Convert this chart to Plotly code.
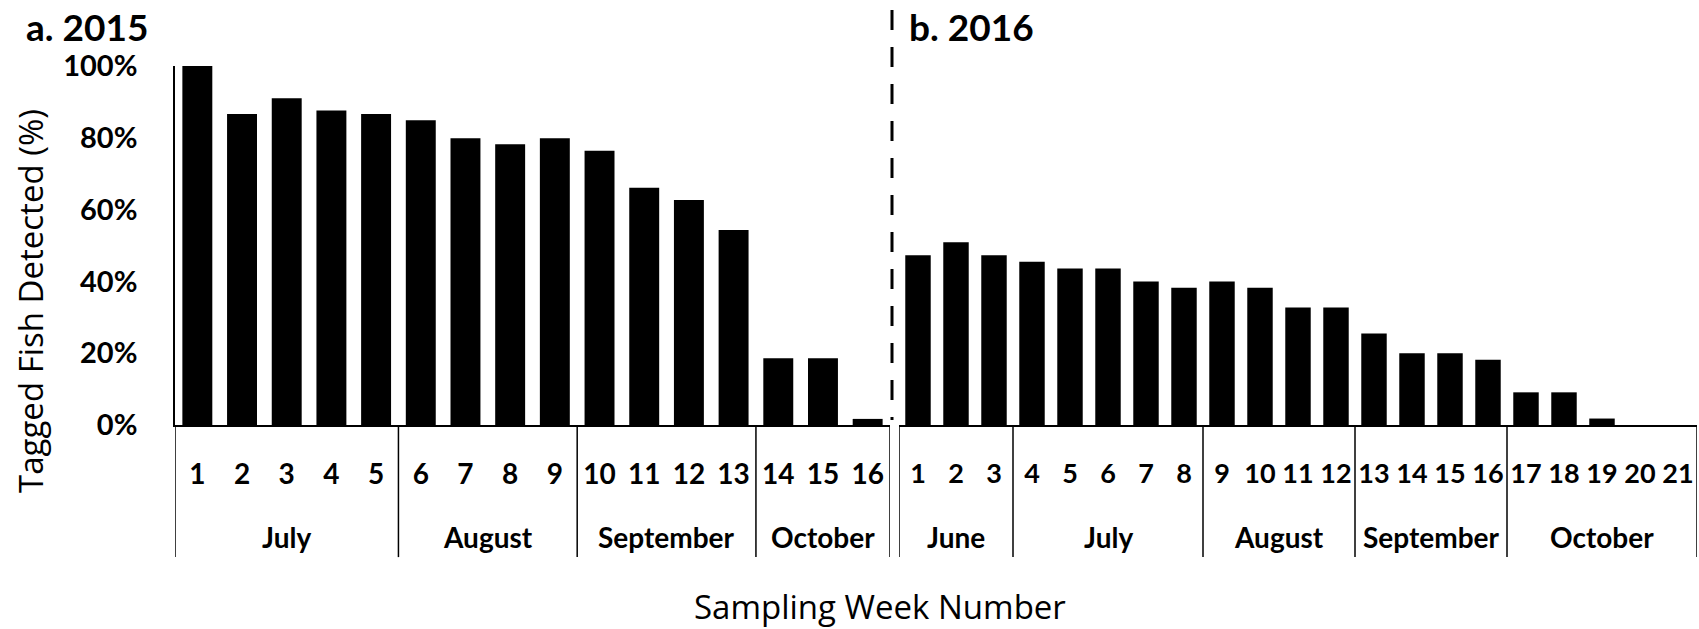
import plotly.graph_objects as go

# ---------------- data ----------------
weeks_2015 = ["1", "2", "3", "4", "5", "6", "7", "8", "9", "10", "11", "12", "13", "14", "15", "16"]
detected_2015 = [100, 86.6, 91.0, 87.6, 86.6, 84.9, 79.9, 78.2, 79.9, 76.4, 66.1, 62.7, 54.3, 18.6, 18.6, 1.7]
months_2015 = ["July", "August", "September", "October"]
weeks_per_month_2015 = [5, 4, 4, 3]

weeks_2016 = ["1", "2", "3", "4", "5", "6", "7", "8", "9", "10", "11", "12", "13", "14", "15", "16",
              "17", "18", "19", "20", "21"]
detected_2016 = [47.3, 50.9, 47.3, 45.5, 43.6, 43.6, 40.0, 38.2, 40.0, 38.2, 32.7, 32.7, 25.5, 20.0,
                 20.0, 18.2, 9.1, 9.1, 1.8, 0, 0]
months_2016 = ["June", "July", "August", "September", "October"]
weeks_per_month_2016 = [3, 5, 4, 4, 5]

y_ticks = [0, 20, 40, 60, 80, 100]
y_tick_labels = ["0%", "20%", "40%", "60%", "80%", "100%"]

# ---------------- figure ----------------
W, H = 1699, 629
FONT = "Lato"
TICKFONT = dict(family=FONT, size=28, color="black", weight="bold")
TITLEFONT = dict(family="Open Sans", size=33, color="black")

fig = go.Figure()
fig.add_trace(go.Bar(x=weeks_2015, y=detected_2015, marker=dict(color="black", line=dict(width=0)),
                     xaxis="x", yaxis="y", showlegend=False))
fig.add_trace(go.Bar(x=weeks_2016, y=detected_2016, marker=dict(color="black", line=dict(width=0)),
                     xaxis="x2", yaxis="y2", showlegend=False))

ydom = [(H - 425) / H, (H - 66) / H]

def xaxis_cfg(dom, anchor, weeks, fsize):
    return dict(domain=dom, anchor=anchor, type="category", range=[-0.5, len(weeks) - 0.5],
                automargin=False,
                showline=True, linecolor="black", linewidth=1.5, showgrid=False, zeroline=False,
                ticks="outside", ticklen=24, tickcolor="rgba(0,0,0,0)", tickangle=0,
                tickmode="array", tickvals=weeks, ticktext=weeks,
                tickfont=dict(family=FONT, size=fsize, color="black", weight="bold"), fixedrange=True)

fig.update_layout(
    width=W, height=H,
    margin=dict(l=0, r=0, t=0, b=0, autoexpand=False),
    paper_bgcolor="white", plot_bgcolor="white",
    bargap=0.33,
    xaxis=xaxis_cfg([175 / W, 890 / W], "y", weeks_2015, 28),
    xaxis2=xaxis_cfg([899 / W, 1697 / W], "y2", weeks_2016, 27),
    yaxis=dict(domain=ydom, anchor="x", range=[0, 100], tickmode="array", tickvals=y_ticks,
               ticktext=y_tick_labels, automargin=False,
               showline=True, linecolor="black", linewidth=1.5, showgrid=False,
               zeroline=False, ticks="outside", ticklen=30, tickcolor="rgba(0,0,0,0)",
               tickfont=dict(family=FONT, size=29, color="black", weight="bold")),
    yaxis2=dict(domain=ydom, anchor="x2", range=[0, 100], showline=False, showgrid=False,
                automargin=False, zeroline=False, showticklabels=False, ticks=""),
)

shapes = []
annotations = []

def add_groups(xref, yref, months, counts):
    start = 0
    bounds = [-0.5]
    for m, c in zip(months, counts):
        annotations.append(dict(x=start + (c - 1) / 2, y=-0.312, xref=xref, yref=yref, text=m,
                                showarrow=False, xanchor="center", yanchor="middle", font=TICKFONT))
        start += c
        bounds.append(start - 0.5)
    for b in bounds:
        shapes.append(dict(type="line", xref=xref, yref=yref, x0=b, x1=b, y0=0, y1=-0.368,
                           line=dict(color="black", width=1.5)))

add_groups("x", "y domain", months_2015, weeks_per_month_2015)
add_groups("x2", "y2 domain", months_2016, weeks_per_month_2016)

# dashed divider between panels
shapes.append(dict(type="line", xref="paper", yref="paper", x0=892 / W, x1=892 / W,
                   y0=(H - 10) / H, y1=(H - 420) / H,
                   line=dict(color="black", width=3, dash="20px,17px")))

# panel titles
annotations.append(dict(x=24 / W, y=(H - 27) / H, xref="paper", yref="paper", text="a. 2015",
                        showarrow=False, xanchor="left", yanchor="middle",
                        font=dict(family=FONT, size=37, color="black", weight="bold")))
annotations.append(dict(x=907 / W, y=(H - 27) / H, xref="paper", yref="paper", text="b. 2016",
                        showarrow=False, xanchor="left", yanchor="middle",
                        font=dict(family=FONT, size=37, color="black", weight="bold")))

# axis titles
annotations.append(dict(x=30 / W, y=(H - 301) / H, xref="paper", yref="paper",
                        text="Tagged Fish Detected (%)", textangle=-90, showarrow=False,
                        xanchor="center", yanchor="middle", font=TITLEFONT))
annotations.append(dict(x=880 / W, y=(H - 606) / H, xref="paper", yref="paper",
                        text="Sampling Week Number", showarrow=False,
                        xanchor="center", yanchor="middle", font=TITLEFONT))

fig.update_layout(shapes=shapes, annotations=annotations)
fig.write_html("out.html", config={"displayModeBar": False},
               post_script="document.body.style.margin='0';document.body.style.overflow='hidden';")
